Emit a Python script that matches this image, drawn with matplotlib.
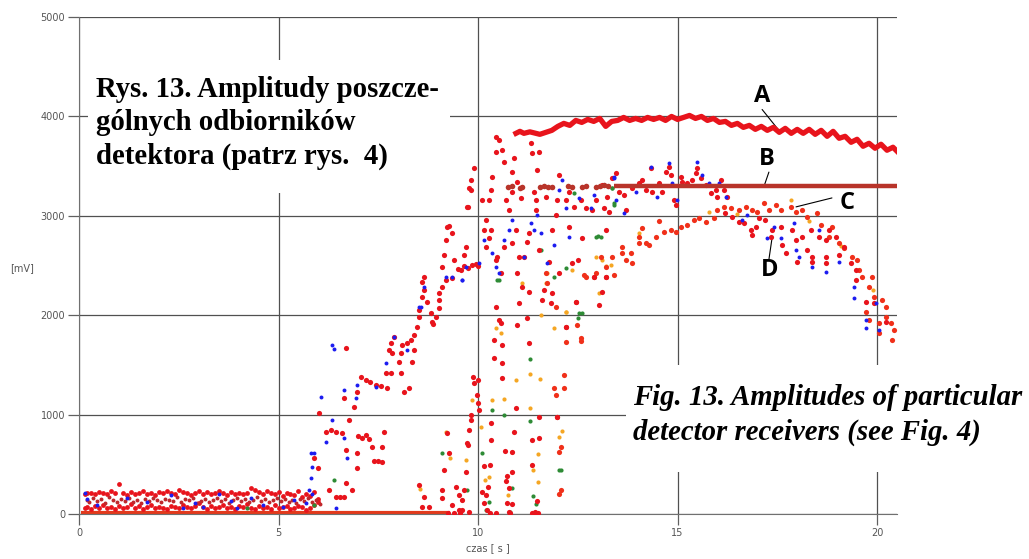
import matplotlib
matplotlib.use("Agg")
import matplotlib.pyplot as plt
from matplotlib.patches import Rectangle

# ---- data (time [s], amplitude [mV]) ----
# curve A - top receiver, almost continuous wavy line
a_t = [10.95, 11.05, 11.15, 11.3, 11.55, 11.7, 11.85, 12.0, 12.15, 12.3, 12.45, 12.6, 12.75, 12.9,
       13.05, 13.2, 13.35, 13.5, 13.65, 13.8, 13.95, 14.1, 14.25, 14.4, 14.55, 14.7, 14.85, 15.0,
       15.15, 15.3, 15.45, 15.6, 15.75, 15.9, 16.05, 16.2, 16.35, 16.5, 16.65, 16.8, 16.95, 17.1,
       17.25, 17.4, 17.55, 17.7, 17.85, 18.0, 18.15, 18.3, 18.45, 18.6, 18.75, 18.9, 19.05, 19.2,
       19.35, 19.5, 19.65, 19.8, 19.95, 20.1, 20.25, 20.4, 20.5]
a_v = [3830, 3850, 3830, 3845, 3820, 3840, 3860, 3900, 3930, 3910, 3960, 3940, 3970, 3950,
       3980, 3900, 3950, 3960, 3990, 3960, 3980, 3960, 3990, 3970, 3990, 3960, 4000, 3970,
       3990, 4010, 3980, 4000, 3960, 3980, 3940, 3950, 3910, 3930, 3890, 3910, 3870, 3900,
       3860, 3890, 3840, 3880, 3830, 3870, 3830, 3870, 3820, 3860, 3800, 3850, 3780, 3800,
       3740, 3770, 3700, 3730, 3680, 3720, 3660, 3690, 3650]

# curve B - saturated receiver, flat at 3300 mV
b_t = [13.4, 20.5]
b_v = [3300, 3300]
b_pts_t = [10.75, 10.85, 11.05, 11.1, 11.55, 11.65, 11.75, 11.85, 12.25, 12.35, 12.6, 12.7,
           12.95, 13.05, 13.15, 13.25]
b_pts_v = [3290, 3300, 3285, 3295, 3290, 3300, 3290, 3295, 3300, 3290, 3295, 3300,
           3290, 3300, 3310, 3300]

# curve C - slowly rising receiver
c_t = [11.7, 11.73, 11.9, 11.95, 11.95, 11.98, 12.03, 12.03, 12.08, 12.08, 12.15, 12.15, 12.2,
       12.2, 12.45, 12.48, 12.58, 12.58, 12.66, 12.7, 12.9, 12.95, 13.08, 13.2, 13.2, 13.36,
       13.4, 13.6, 13.6, 13.7, 13.83, 13.86, 14.03, 14.03, 14.1, 14.2, 14.28, 14.45, 14.53,
       14.66, 14.84, 14.96, 15.08, 15.24, 15.41, 15.54, 15.71, 15.91, 16.0, 16.17, 16.34,
       16.54, 16.72, 16.87, 16.99, 17.17, 17.29, 17.47, 17.59, 17.84, 17.97, 18.12, 18.25,
       18.5, 18.6, 18.8, 18.87, 19.05, 19.17, 19.37, 19.5, 19.55, 19.62, 19.72, 19.8, 19.8,
       19.87, 19.92, 20.05, 20.05, 20.12, 20.22, 20.22, 20.35, 20.38, 20.42]
c_v = [2425, 2325, 1270, 1200, 2085, 975, 625, 200, 675, 240, 1400, 1270, 1880, 1730,
       2135, 1900, 1770, 1740, 2405, 2385, 2385, 2420, 2590, 2485, 2385, 2590,
       2405, 2625, 2690, 2555, 2625, 2525, 2725, 2790, 2875, 2725, 2705, 2790, 2945,
       2835, 2860, 2835, 2890, 2910, 2960, 2980, 2940, 2980, 3060, 3090, 3080,
       3060, 3090, 3060, 3040, 3130, 3060, 3110, 3060, 3090, 3040, 3060, 2990,
       3030, 2910, 2790, 2890, 2725, 2680, 2590, 2555, 2455, 2385, 2030, 2285, 1950,
       2385, 2185, 1920, 1820, 2150, 2085, 1980, 1920, 1750, 1850]

# red points (receiver D and the rest of the red traces)
red_t = [
    # rising part 5.9 - 10 s
    5.9, 6.0, 6.02, 6.2, 6.31, 6.45, 6.6, 6.27, 6.45, 6.55, 6.65, 6.68, 6.68, 6.97, 6.97, 6.85,
    7.0, 7.1, 7.2, 7.27, 7.35, 7.4, 7.5, 7.6, 7.65, 7.6, 6.64, 6.77, 6.9, 6.97, 7.07, 7.2, 7.3,
    7.44, 7.58, 7.72, 7.7, 7.82, 8.07, 8.15, 8.27, 7.77, 7.82, 7.85, 7.9, 8.02, 8.07, 8.1, 8.22,
    8.32, 8.35, 8.4, 8.4, 8.47, 8.52, 8.52, 8.6, 8.6, 8.65, 8.65, 8.72, 8.82, 8.85, 8.88, 8.95,
    9.02, 9.02, 9.02, 9.1, 9.1, 9.15, 9.2, 9.2, 9.22, 9.28, 9.35, 9.35, 9.4, 9.5, 9.57, 9.65,
    9.75, 9.85, 9.95, 10.0, 9.7, 9.75, 9.77, 9.82, 9.9, 9.82, 9.72, 6.68,
    # 8.5 - 10 s, low values
    8.52, 8.6, 8.65, 8.77, 9.22, 9.27, 9.15, 9.1, 9.1, 9.45, 9.52, 9.6, 9.35, 9.77, 9.72, 9.82,
    9.9, 9.97, 9.7, 9.65, 9.77, 9.52, 9.88, 9.82, 9.75, 9.6, 10.0, 10.03,
    # 10 - 13.5 s
    10.35, 10.32, 10.1, 10.27, 10.52, 10.6, 10.45, 10.45, 10.65, 10.9, 10.85, 10.98, 10.85,
    10.7, 10.78, 11.08, 11.35, 11.53, 11.33, 11.48, 11.4, 11.45, 11.45, 11.7, 11.98, 12.2,
    12.03, 12.28, 12.4, 12.58, 12.7, 12.95, 12.86, 11.95, 10.2, 10.15, 10.32, 10.2, 10.27,
    10.48, 10.58, 10.45, 9.65, 10.85, 10.95, 10.65, 11.03, 11.15, 11.23, 11.28, 11.53, 11.85,
    12.28, 12.6, 13.2, 10.98, 11.1, 11.28, 11.78, 12.36, 12.9, 12.03, 11.65, 11.85, 12.45,
    10.45, 11.03, 11.83, 11.6, 13.03, 10.52, 10.58, 11.23, 10.98, 12.2, 10.4, 10.6, 11.28,
    10.4, 10.6, 10.6, 10.0, 10.95, 11.53, 11.98, 10.32, 10.9, 10.32, 11.35, 11.53, 10.68,
    10.85, 10.15, 10.3, 11.35, 10.85, 10.73, 10.7, 10.25, 10.78, 10.1, 10.2, 11.48, 10.15,
    10.73, 10.85, 10.23, 10.78, 11.43, 13.2, 13.1, 12.5,
    # 13 - 16.5 s, around B
    13.45, 13.36, 13.1, 13.23, 13.28, 13.16, 13.53, 13.66, 13.7, 13.86, 14.03, 14.1, 14.2,
    14.33, 14.36, 14.53, 14.61, 14.71, 14.79, 14.84, 14.96, 14.91, 15.08, 15.11, 15.24,
    15.36, 15.46, 15.49, 15.59, 15.71, 15.84, 15.96, 16.0, 16.09, 16.17, 16.24,
    # 16 - 20.5 s, receiver D
    16.2, 16.37, 16.54, 16.67, 16.84, 16.87, 16.96, 17.04, 17.2, 17.34, 17.37, 17.59, 17.62,
    17.72, 17.87, 17.97, 18.12, 18.25, 18.35, 18.37, 18.55, 18.72, 18.72, 18.8, 18.97,
    19.17, 19.35, 19.47, 18.0, 18.37, 18.72, 19.05, 19.47, 19.72, 19.92, 20.22,
    # zero level 9 - 12 s
    9.25, 9.4, 9.55, 10.3, 10.45, 10.8, 11.35, 11.5]
red_v = [
    560, 460, 1015, 830, 845, 830, 820, 240, 175, 170, 170, 310, 645, 610, 460, 240,
    780, 760, 790, 750, 675, 530, 535, 525, 825, 675, 1170, 945, 1080, 1230, 1380, 1350, 1330,
    1300, 1290, 1270, 1420, 1420, 1420, 1230, 1270, 1650, 1720, 1620, 1780, 1530, 1620, 1700, 1720,
    1750, 1530, 1800, 1650, 1880, 1980, 2050, 2180, 2335, 2385, 2250, 2130, 2020, 1930, 1910, 1980,
    2220, 2150, 2070, 2285, 2485, 2610, 2355, 2760, 2890, 2900, 2830, 2375, 2555, 2470, 2455, 2500,
    2480, 2510, 2520, 2500, 2690, 3090, 3280, 3360, 3480, 3260, 3090, 1670,
    290, 70, 170, 70, 815, 610, 440, 240, 160, 270, 190, 140, 90, 845, 715, 1000,
    1320, 1200, 420, 240, 20, 40, 1380, 945, 695, 40, 1115, 1045,
    3390, 3260, 3160, 3160, 3760, 3660, 3790, 3640, 3540, 3580, 3440, 3340, 3240,
    3160, 3060, 3180, 3630, 3640, 3730, 3460, 3240, 3160, 3060, 3190, 3160, 3160,
    3410, 3240, 3090, 3160, 3080, 3160, 3060, 3010, 2960, 2860, 2860, 2690, 2780,
    2590, 2420, 2555, 2610, 2725, 2860, 2690, 2590, 2590, 2735, 2830, 2655, 2860,
    2890, 2780, 2860, 2420, 2285, 2235, 2535, 2525, 2385, 2425, 2255, 2225, 2135,
    2085, 2120, 2120, 2150, 2100, 1950, 1920, 1970, 1900, 1880, 1750, 1700, 1720,
    1570, 1520, 1370, 1350, 1065, 975, 975, 915, 825, 745, 745, 765, 635,
    625, 485, 495, 495, 420, 380, 330, 270, 260, 220, 190, 130, 110,
    110, 100, 40, 20, 20, 2385, 2230, 2560,
    3430, 3380, 3310, 3190, 3040, 3080, 3240, 3210, 3060, 3280, 3330, 3360, 3260,
    3480, 3240, 3330, 3240, 3440, 3490, 3410, 3110, 3160, 3390, 3340, 3330,
    3360, 3430, 3480, 3380, 3310, 3230, 3260, 3190, 3360, 3260, 3190,
    3030, 2990, 2940, 2925, 2860, 2805, 2890, 2980, 2960, 2790, 2860, 2890, 2705,
    2625, 2860, 2760, 2790, 2655, 2860, 2590, 2790, 2760, 2590, 2860, 2790,
    2690, 2525, 2455, 2535, 2535, 2525, 2605, 2355, 2135, 2120, 1930,
    10, 15, 10, 10, 15, 10, 10, 15]

# noise level 0 - 6 s (rows of red points)
low_t = [0.15, 0.2, 0.3, 0.4, 0.5, 0.6, 0.7, 0.8, 0.9, 1.0, 1.1, 1.2, 1.3, 1.4, 1.5, 1.6, 1.7,
         1.8, 1.9, 2.0, 2.1, 2.2, 2.3, 2.4, 2.5, 2.6, 2.7, 2.8, 2.9, 3.0, 3.1, 3.2, 3.3, 3.4,
         3.5, 3.6, 3.7, 3.8, 3.9, 4.0, 4.1, 4.2, 4.3, 4.4, 4.5, 4.6, 4.7, 4.8, 4.9, 5.0, 5.1,
         5.2, 5.3, 5.4, 5.5, 5.6, 5.7, 5.8, 5.9, 6.0]
low_hi = [200, 210, 215, 205, 220, 210, 200, 230, 215, 300, 210, 190, 225, 205, 215, 230, 200,
          210, 195, 220, 215, 235, 210, 200, 240, 220, 210, 190, 215, 230, 205, 220, 200, 210,
          230, 215, 195, 225, 205, 210, 200, 215, 260, 240, 220, 205, 230, 215, 200, 220, 180,
          210, 200, 190, 230, 170, 200, 180, 220, 150]
low_lo = [60, 70, 55, 80, 65, 90, 60, 75, 50, 85, 60, 70, 100, 60, 80, 55, 70, 90, 60, 75, 65,
          55, 80, 70, 60, 90, 75, 60, 80, 110, 70, 55, 85, 65, 70, 90, 60, 75, 55, 80, 70, 100,
          60, 50, 85, 65, 75, 55, 90, 60, 70, 80, 50, 60, 85, 70, 40, 60, 90, 120]
low_mid = [140, 120, 160, 130, 150, 110, 170, 140, 120, 150, 135, 160, 120, 140, 110, 150, 130,
           160, 140, 120, 150, 140, 130, 170, 120, 150, 140, 160, 110, 130, 150, 120, 140, 160,
           130, 150, 110, 140, 160, 130, 150, 120, 140, 170, 130, 150, 120, 140, 160, 130, 150,
           120, 140, 110, 150, 130, 160, 120, 140, 100]
base_t = [0.05, 9.3]
base_v = [8, 8]

# blue points
blue_t = [0.15, 0.2, 0.45, 1.2, 1.7, 2.3, 2.6, 2.9, 3.1, 3.5, 3.8, 3.95, 4.3, 4.6, 5.1, 5.4,
          5.7, 5.85, 6.07, 6.64, 6.35, 6.2, 5.82, 5.88, 5.83, 5.82, 5.77, 6.44, 6.97, 6.94, 6.64,
          6.72, 6.35, 6.38, 7.9, 8.22, 7.7, 8.52, 8.65, 9.2, 9.35, 9.6, 9.7, 7.44, 8.57,
          12.1, 12.03, 12.2, 12.53, 12.9, 12.83, 13.4, 13.45, 11.48, 11.33, 11.4, 11.58, 10.85,
          10.78, 10.65, 10.15, 10.35, 10.45, 10.52, 11.15, 11.9, 12.28, 11.73, 10.03, 9.6,
          13.4, 14.33, 14.79, 15.49, 15.61, 14.86, 14.49, 13.96, 13.66, 14.99, 15.79, 16.04,
          16.22, 17.24, 17.42, 17.59, 17.97, 18.05, 18.37, 18.55, 18.72, 19.05, 19.42, 19.42,
          19.72, 19.72, 19.97, 20.05, 16.62, 16.74, 17.92]
blue_v = [210, 150, 90, 160, 120, 190, 60, 110, 70, 200, 130, 60, 160, 90, 70, 140,
          110, 200, 1180, 1250, 945, 725, 610, 610, 470, 360, 240, 60, 1300, 1170, 765,
          565, 1700, 1660, 1780, 1650, 1520, 2080, 2285, 2385, 2385, 2355, 2485, 1280, 2085,
          3360, 3260, 3080, 3180, 3210, 3080, 3390, 3160, 3010, 2930, 2860, 2830, 2960,
          2860, 2760, 2760, 2625, 2485, 2420, 2590, 2705, 2790, 2525, 2525, 2355,
          3380, 3490, 3530, 3540, 3410, 3330, 3190, 3240, 3030, 3160, 3330, 3330,
          3190, 2775, 2890, 2775, 2655, 2590, 2485, 2860, 2435, 2535, 2285, 2175,
          1950, 1870, 2120, 1850, 2960, 3010, 2925]

# green points
green_t = [11.1, 12.4, 13.36, 13.4, 12.95, 13.0, 11.58, 11.9, 12.2, 10.48, 10.52, 12.53, 12.6,
           12.5, 11.3, 10.35, 10.65, 11.3, 10.1, 12.03, 12.08, 9.72, 10.85, 10.27, 11.38,
           10.2, 10.8, 11.45, 13.36, 13.4, 13.08, 6.4, 4.2, 5.9, 9.1]
green_v = [3290, 3230, 3280, 3130, 2790, 2800, 2655, 2385, 2475, 2355, 2355, 2020, 2020,
           1970, 1560, 1045, 1000, 935, 610, 445, 440, 240, 260, 120, 180,
           40, 20, 100, 3280, 3110, 2790, 340, 60, 90, 610]

# orange points
orange_t = [11.73, 11.7, 12.95, 13.1, 13.33, 12.36, 11.1, 13.03, 12.2, 11.58, 12.2, 11.9,
            10.58, 10.45, 10.95, 11.3, 11.55, 10.35, 10.65, 11.3, 9.85, 12.1, 12.03, 10.85,
            11.5, 9.7, 10.27, 10.17, 11.5, 10.75, 11.38, 10.07, 9.6, 17.84, 15.8, 14.03,
            13.2, 16.5, 18.3, 19.1, 19.9, 9.2, 8.55, 9.3]
orange_v = [2425, 2325, 2590, 2555, 2505, 2455, 2325, 2225, 2030, 2000, 2030, 1870,
            1820, 1870, 1350, 1410, 1355, 1145, 1155, 1065, 1145, 835, 775, 625,
            600, 545, 375, 340, 320, 190, 445, 875, 140, 3160, 3040, 2825,
            2500, 3020, 2950, 2700, 2250, 830, 250, 560]

# ---- figure ----
fig = plt.figure(figsize=(10.29, 5.59), dpi=100)
ax = fig.add_axes([0.0768, 0.0805, 0.7949, 0.889])

red = "#e8141c"
ax.plot(base_t, base_v, color="#e23a1c", lw=3, solid_capstyle="butt", zorder=2)
ax.scatter(low_t, low_hi, s=12, color=red, lw=0, zorder=3)
ax.scatter(low_t, low_lo, s=12, color=red, lw=0, zorder=3)
ax.scatter([t + 0.05 for t in low_t], low_mid, s=8, color="#c0282c", lw=0, zorder=3)
ax.scatter(orange_t, orange_v, s=9, color="#f5a623", lw=0, zorder=3)
ax.scatter(green_t, green_v, s=9, color="#2e8b35", lw=0, zorder=3)
ax.scatter(c_t, c_v, s=14, color="#f0301a", lw=0, zorder=4)
ax.scatter(red_t, red_v, s=14, color=red, lw=0, zorder=4)
ax.scatter(blue_t, blue_v, s=8, color="#1c1cf0", lw=0, zorder=5)
ax.scatter(b_pts_t, b_pts_v, s=16, color="#b8342a", lw=0, zorder=5)
ax.plot(b_t, b_v, color="#b8342a", lw=3.2, solid_capstyle="butt", zorder=5)
ax.plot(a_t, a_v, color=red, lw=3.8, zorder=6)

ax.set_xlim(0, 20.5)
ax.set_ylim(0, 5000)
ax.set_xticks([0, 5, 10, 15, 20])
ax.set_yticks([0, 1000, 2000, 3000, 4000, 5000])
ax.grid(True, color="#505050", lw=0.9)
ax.set_axisbelow(True)
for s in ["top", "right"]:
    ax.spines[s].set_visible(False)
for s in ["left", "bottom"]:
    ax.spines[s].set_color("#707070")
ax.tick_params(length=8, width=0.9, color="#606060", labelsize=7, labelcolor="#555555", pad=2)
ax.set_xlabel("czas [ s ]", fontsize=7, color="#555555", labelpad=4)
fig.text(22 / 1029, 1 - 268 / 559, "[mV]", fontsize=7, color="#555555", ha="center", va="center")

# labels of the curves with thin leader lines
lab = dict(fontsize=17, fontweight="bold", family="Open Sans", color="black",
           ha="center", va="center", zorder=7)
ax.text(17.12, 4210, "A", **lab)
ax.text(17.25, 3570, "B", **lab)
ax.text(19.25, 3130, "C", **lab)
ax.text(17.3, 2450, "D", **lab)
leader = dict(arrowstyle="-", color="black", lw=0.8, shrinkA=0, shrinkB=0)
ax.annotate("", xy=(17.5, 3880), xytext=(17.12, 4070), arrowprops=leader)
ax.annotate("", xy=(17.17, 3300), xytext=(17.29, 3440), arrowprops=leader)
ax.annotate("", xy=(17.97, 3090), xytext=(18.87, 3180), arrowprops=leader)
ax.annotate("", xy=(17.37, 2780), xytext=(17.29, 2560), arrowprops=leader)

# white boxes with the captions (cover the grid)
for x0, y0, x1, y1 in [(88, 60, 450, 193), (626, 365, 1029, 472)]:
    fig.patches.append(Rectangle((x0 / 1029, 1 - y1 / 559), (x1 - x0) / 1029, (y1 - y0) / 559,
                                 transform=fig.transFigure, facecolor="white", edgecolor="none"))

fig.text(96 / 1029, 1 - 76 / 559, "Rys. 13. Amplitudy poszcze-\ngólnych odbiorników\ndetektora (patrz rys.  4)",
         family="Liberation Serif", fontweight="bold", fontsize=20.7, linespacing=1.3,
         va="top", ha="left")
fig.text(633 / 1029, 1 - 384 / 559, "Fig. 13. Amplitudes of particular\ndetector receivers (see Fig. 4)",
         family="Liberation Serif", fontweight="bold", style="italic", fontsize=20.7, linespacing=1.35,
         va="top", ha="left")

fig.savefig("out.png", dpi=100)
